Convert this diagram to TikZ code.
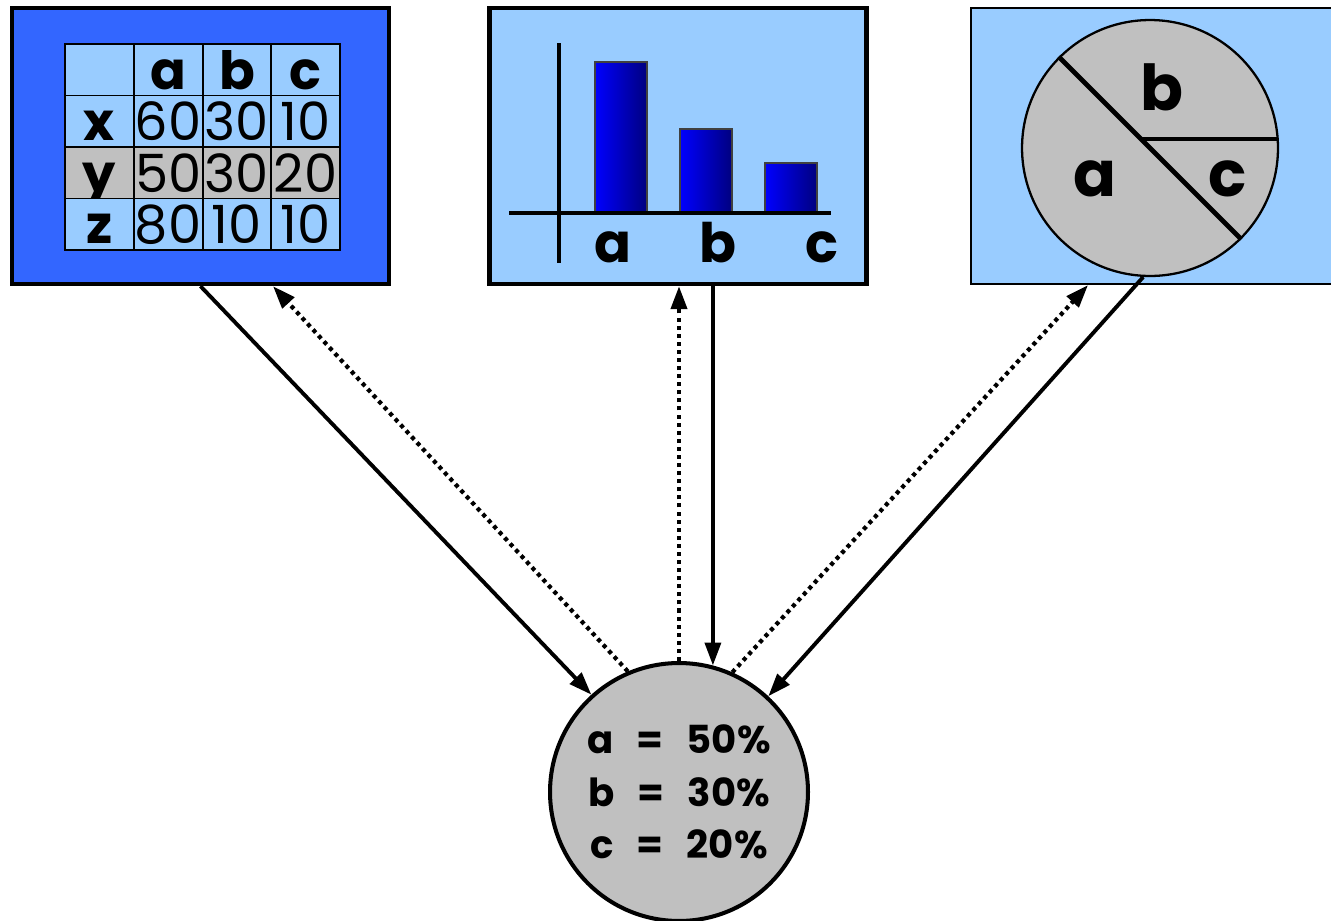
\documentclass[tikz,border=0pt]{standalone}
\usepackage{fontspec}
\setmainfont{Poppins}
\usetikzlibrary{shapes,arrows.meta,positioning}
\definecolor{deepblue}{HTML}{3366FF}
\definecolor{paleblue}{HTML}{99CCFF}
\definecolor{pgray}{HTML}{C0C0C0}

\begin{document}
\begin{tikzpicture}[x=0.02cm, y=-0.02cm,
                   panel/.style={draw, line width=2.5pt, minimum width=7.54cm, minimum height=5.52cm, inner sep=0pt},
                   cell/.style={draw, line width=1.1pt, minimum width=1.375cm, minimum height=1.03cm, inner sep=0pt,
                                text height=22pt, text depth=0pt, font=\fontsize{30}{30}\selectfont},
                   bar/.style={draw=black!75, line width=1pt, left color=blue, right color=blue!50!black},
                   biglabel/.style={font=\bfseries\fontsize{31}{31}\selectfont},
                   solidarrow/.style={line width=2.2pt, -{Triangle[length=13pt,width=9pt]}},
                   dotarrow/.style={line width=2.4pt, dash pattern=on 2.3pt off 2.3pt, -{Triangle[length=13pt,width=9pt]}}]
  \useasboundingbox (0,0) rectangle (1331,920);

  % table panel
  \node[panel, fill=deepblue] (tablebox) at (200.5,146) {};
  \foreach \lbl/\va/\vb/\vc/\tint [count=\r from 0] in {{}/a/b/c/paleblue, x/60/30/10/paleblue,
                                                      y/50/30/20/pgray, z/80/10/10/paleblue} {
    \node[cell, fill=\tint, font=\bfseries\fontsize{30}{30}\selectfont] (cell-\r-0) at (99.4, 69.75+51.5*\r) {\lbl};
    \foreach \v [count=\c] in {\va,\vb,\vc}
      \node[cell, fill=\tint] (cell-\r-\c) at (99.4+68.75*\c, 69.75+51.5*\r) {\ifnum\r=0 \bfseries\fi\v};
  }

  % bar chart panel
  \node[panel, fill=paleblue] (chartbox) at (678,146) {};
  \foreach \x/\top in {595/62, 680/129, 765/163}
    \draw[bar] (\x,213) rectangle (\x+52,\top);
  \draw[line width=2.5pt] (559,43) -- (559,263);
  \draw[line width=2.5pt] (509,213) -- (831,213);
  \foreach \t/\x in {a/613, b/718, c/822}
    \node[biglabel, anchor=base] (bar-\t) at (\x,262) {\t};

  % pie panel
  \node[draw, line width=1.3pt, fill=paleblue, minimum width=7.4cm, minimum height=5.52cm] (piebox) at (1156,146) {};
  \node[circle, draw, line width=1.3pt, fill=pgray, minimum size=5.12cm, inner sep=0pt] (pie) at (1150,148) {};
  \draw[line width=2.7pt] (pie.135) -- (pie.-45);
  \draw[line width=2.7pt] (1141,139) -- (1278,139);
  \foreach \t/\x/\y in {a/1095/196, b/1162/110, c/1228/196}
    \node[font=\bfseries\fontsize{36}{36}\selectfont, anchor=base] (pie-\t) at (\x,\y) {\t};

  % result
  \node[circle, draw, line width=2.3pt, fill=pgray, minimum size=5.16cm, inner sep=0pt, align=center,
        font=\bfseries\fontsize{22}{30}\selectfont] (summary) at (679,792)
        {a\hspace{0.6em}=\hspace{0.6em}50\%\\ b\hspace{0.6em}=\hspace{0.6em}30\%\\ c\hspace{0.6em}=\hspace{0.6em}20\%};

  \draw[solidarrow] (tablebox.south) -- (summary.132);
  \draw[dotarrow] (summary.113) -- ([xshift=1.45cm]tablebox.south);
  \draw[dotarrow] (summary.north) -- (summary.north |- chartbox.south);
  \draw[solidarrow] (chartbox.south -| summary.75) -- (summary.75);
  \draw[dotarrow] (summary.66) -- ([xshift=-1.36cm]piebox.south);
  \draw[solidarrow] (pie.267) -- (summary.47);
\end{tikzpicture}
\end{document}
